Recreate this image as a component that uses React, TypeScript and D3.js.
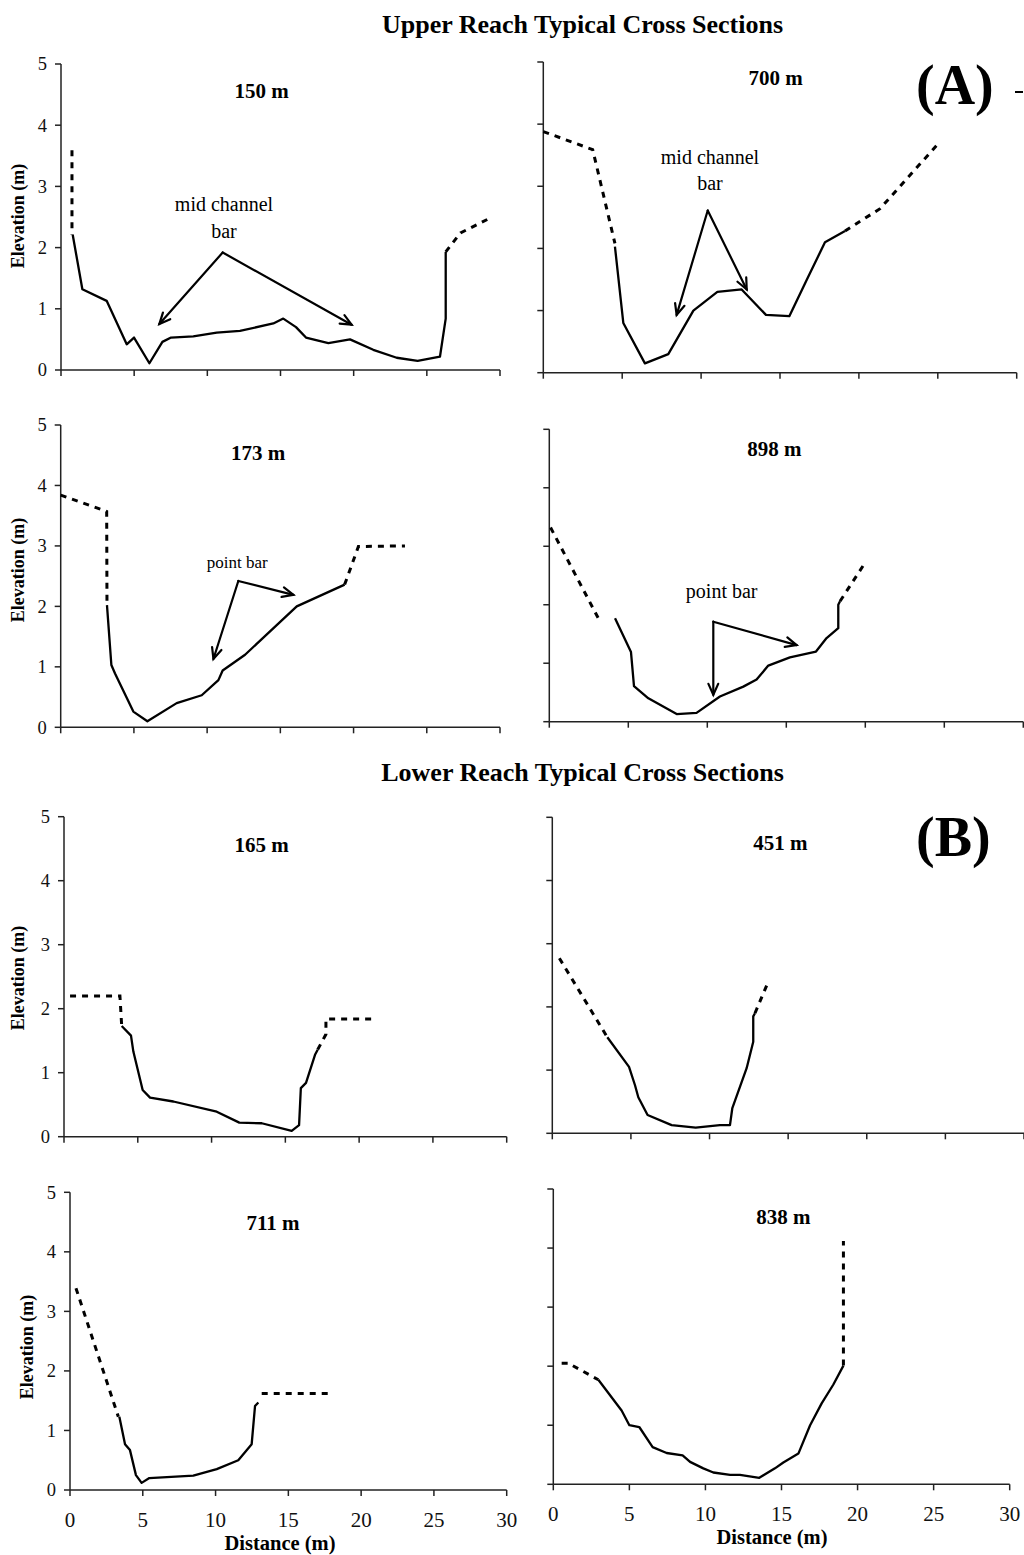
import React from "react";
import * as d3 from "d3";

type Pt = [number, number];

// Axis ticks
const elevationTicks = [0, 1, 2, 3, 4, 5];
const distanceTicks = [0, 5, 10, 15, 20, 25, 30];

// Surveyed channel (solid) and bank/terrace extension (dashed) profiles: [distance m, elevation m]
const sec150Channel: Pt[] = [[0.8, 2.21], [1.46, 1.32], [3.12, 1.13], [4.49, 0.42], [4.99, 0.53], [6.04, 0.11], [6.93, 0.46], [7.52, 0.53], [9.04, 0.55], [10.64, 0.61], [12.23, 0.64], [14.51, 0.76], [15.19, 0.84], [16.06, 0.7], [16.74, 0.53], [18.27, 0.44], [19.75, 0.5], [21.34, 0.33], [22.94, 0.2], [24.37, 0.15], [25.9, 0.22], [26.29, 0.84], [26.29, 1.93]];
const sec150BankLeft: Pt[] = [[0.75, 3.59], [0.75, 2.21]];
const sec150BankRight: Pt[] = [[26.29, 1.93], [27.3, 2.24], [29.3, 2.48]];

const sec700Channel: Pt[] = [[4.54, 2.03], [5.07, 0.8], [6.44, 0.15], [7.92, 0.3], [9.51, 1.0], [11.03, 1.3], [12.57, 1.34], [14.11, 0.93], [15.59, 0.91], [16.69, 1.49], [17.85, 2.1], [19.12, 2.28]];
const sec700BankLeft: Pt[] = [[0, 3.88], [3.13, 3.59], [4.54, 2.08]];
const sec700BankRight: Pt[] = [[19.12, 2.28], [21.34, 2.64], [25.04, 3.69]];

const sec173Channel: Pt[] = [[3.16, 2.02], [3.46, 1.03], [3.71, 0.89], [4.96, 0.26], [5.92, 0.1], [7.92, 0.4], [9.63, 0.53], [10.77, 0.78], [11.06, 0.94], [12.59, 1.2], [16.12, 2.0], [19.39, 2.36]];
const sec173BankLeft: Pt[] = [[0, 3.84], [3.14, 3.57], [3.16, 2.06]];
const sec173BankRight: Pt[] = [[19.39, 2.36], [20.33, 2.99], [23.51, 3.0]];

const sec898Channel: Pt[] = [[4.16, 1.77], [5.17, 1.19], [5.36, 0.61], [6.27, 0.4], [8.06, 0.13], [9.32, 0.15], [10.8, 0.43], [12.28, 0.6], [13.12, 0.72], [13.86, 0.96], [15.23, 1.1], [16.88, 1.2], [17.55, 1.43], [18.29, 1.6], [18.29, 2.0], [18.4, 2.06]];
const sec898BankLeft: Pt[] = [[0.08, 3.32], [3.1, 1.77], [3.45, 1.77]];
const sec898BankRight: Pt[] = [[18.4, 2.06], [19.87, 2.67]];

const sec165Channel: Pt[] = [[3.91, 1.73], [4.54, 1.58], [4.7, 1.33], [5.33, 0.73], [5.83, 0.61], [7.41, 0.55], [10.35, 0.39], [11.88, 0.22], [13.4, 0.21], [15.43, 0.09], [15.93, 0.18], [16.05, 0.76], [16.4, 0.84], [17.01, 1.28], [17.19, 1.36]];
const sec165BankLeft: Pt[] = [[0.41, 2.2], [3.79, 2.2], [3.91, 1.73]];
const sec165BankRight: Pt[] = [[17.19, 1.36], [17.75, 1.6], [17.75, 1.84], [20.96, 1.84]];

const sec451Channel: Pt[] = [[3.5, 1.52], [4.88, 1.05], [5.26, 0.76], [5.47, 0.57], [6.06, 0.29], [7.59, 0.13], [9.12, 0.09], [10.66, 0.13], [11.3, 0.13], [11.45, 0.4], [12.36, 1.03], [12.78, 1.45], [12.78, 1.85], [12.89, 1.9]];
const sec451BankLeft: Pt[] = [[0.45, 2.77], [3.5, 1.52]];
const sec451BankRight: Pt[] = [[12.89, 1.9], [13.67, 2.36]];

const sec711Channel: Pt[] = [[3.39, 1.23], [3.78, 0.77], [4.12, 0.67], [4.53, 0.25], [4.92, 0.12], [5.45, 0.2], [8.47, 0.24], [10.08, 0.35], [11.56, 0.5], [12.48, 0.77], [12.71, 1.41], [12.94, 1.47]];
const sec711BankLeft: Pt[] = [[0.41, 3.39], [3.32, 1.23]];
const sec711BankRight: Pt[] = [[13.17, 1.62], [17.75, 1.62]];

const sec838Channel: Pt[] = [[2.96, 1.77], [4.49, 1.25], [5.0, 1.0], [5.65, 0.97], [6.53, 0.63], [7.45, 0.53], [8.5, 0.49], [8.99, 0.38], [9.86, 0.27], [10.52, 0.2], [11.62, 0.16], [12.27, 0.16], [13.54, 0.11], [14.57, 0.27], [15.12, 0.37], [16.11, 0.52], [16.88, 1.0], [17.64, 1.37], [18.41, 1.69], [19.07, 2.01]];
const sec838BankLeft: Pt[] = [[0.55, 2.05], [1.05, 2.05], [1.27, 2.01], [2.96, 1.77]];
const sec838BankRight: Pt[] = [[19.07, 2.01], [19.07, 4.12]];

// Bar annotations: label anchor, arrow origin and arrow tips (data units)
type Note = { lines: string[]; at: Pt; apex: Pt; tips: Pt[]; size: number };
const note150: Note = { lines: ["mid channel", "bar"], at: [11.14, 2.59], apex: [11.05, 1.92], tips: [[6.72, 0.75], [19.86, 0.74]], size: 20 };
const note700: Note = { lines: ["mid channel", "bar"], at: [10.56, 3.36], apex: [10.42, 2.61], tips: [[8.45, 0.93], [12.89, 1.34]], size: 20 };
const note173: Note = { lines: ["point bar"], at: [12.06, 2.63], apex: [12.13, 2.42], tips: [[10.43, 1.13], [15.89, 2.19]], size: 17 };
const note898: Note = { lines: ["point bar"], at: [10.91, 2.11], apex: [10.38, 1.71], tips: [[10.38, 0.46], [15.65, 1.31]], size: 20 };

type Panel = {
  title: string;
  channel: Pt[];
  banks: Pt[][];
  note?: Note;
  x0: number; x1: number; yTop: number; yBot: number;
  titleX: number; titleY: number;
  yLabels: boolean; xLabels: boolean;
  yTitleX?: number; yTitleY?: number;
  xTitleX?: number;
};

const FONT = "'Liberation Serif', 'Times New Roman', Times, serif";

const panels: Panel[] = [
  { title: "150 m", channel: sec150Channel, banks: [sec150BankLeft, sec150BankRight], note: note150,
    x0: 61, x1: 500, yTop: 64, yBot: 370, titleX: 261.5, titleY: 97.5, yLabels: true, xLabels: false, yTitleX: 24, yTitleY: 216 },
  { title: "700 m", channel: sec700Channel, banks: [sec700BankLeft, sec700BankRight], note: note700,
    x0: 543.3, x1: 1016.7, yTop: 62, yBot: 372.7, titleX: 775.5, titleY: 85, yLabels: false, xLabels: false },
  { title: "173 m", channel: sec173Channel, banks: [sec173BankLeft, sec173BankRight], note: note173,
    x0: 60.7, x1: 500, yTop: 425, yBot: 727.3, titleX: 258, titleY: 459.5, yLabels: true, xLabels: false, yTitleX: 24, yTitleY: 570 },
  { title: "898 m", channel: sec898Channel, banks: [sec898BankLeft, sec898BankRight], note: note898,
    x0: 549.3, x1: 1023.3, yTop: 429.3, yBot: 721.7, titleX: 774.3, titleY: 456, yLabels: false, xLabels: false },
  { title: "165 m", channel: sec165Channel, banks: [sec165BankLeft, sec165BankRight],
    x0: 64, x1: 506.7, yTop: 816.7, yBot: 1136.7, titleX: 261.5, titleY: 852, yLabels: true, xLabels: false, yTitleX: 24, yTitleY: 978 },
  { title: "451 m", channel: sec451Channel, banks: [sec451BankLeft, sec451BankRight],
    x0: 552.3, x1: 1024, yTop: 817.3, yBot: 1133.3, titleX: 780.3, titleY: 850, yLabels: false, xLabels: false },
  { title: "711 m", channel: sec711Channel, banks: [sec711BankLeft, sec711BankRight],
    x0: 70, x1: 506.7, yTop: 1192.3, yBot: 1490, titleX: 273, titleY: 1230, yLabels: true, xLabels: true, yTitleX: 33, yTitleY: 1347, xTitleX: 280 },
  { title: "838 m", channel: sec838Channel, banks: [sec838BankLeft, sec838BankRight],
    x0: 553.3, x1: 1009.7, yTop: 1189, yBot: 1484.3, titleX: 783.3, titleY: 1223.5, yLabels: false, xLabels: true, xTitleX: 772 },
];

function Arrow({ from, to }: { from: [number, number]; to: [number, number] }) {
  const ang = Math.atan2(to[1] - from[1], to[0] - from[0]);
  const L = 12;
  const spread = 0.42;
  const a1: [number, number] = [to[0] - L * Math.cos(ang - spread), to[1] - L * Math.sin(ang - spread)];
  const a2: [number, number] = [to[0] - L * Math.cos(ang + spread), to[1] - L * Math.sin(ang + spread)];
  return (
    <g stroke="#000" strokeWidth={2.2} fill="none" strokeLinecap="round" strokeLinejoin="miter">
      <line x1={from[0]} y1={from[1]} x2={to[0]} y2={to[1]} />
      <path d={`M${a1[0]},${a1[1]}L${to[0]},${to[1]}L${a2[0]},${a2[1]}`} />
    </g>
  );
}

function CrossSection({ p }: { p: Panel }) {
  const x = d3.scaleLinear().domain([0, 30]).range([p.x0, p.x1]);
  const y = d3.scaleLinear().domain([0, 5]).range([p.yBot, p.yTop]);
  const line = d3.line<Pt>().x((d) => x(d[0])).y((d) => y(d[1]));
  const axisColor = "#222";
  return (
    <g>
      {/* y axis */}
      <line x1={p.x0} x2={p.x0} y1={p.yTop} y2={p.yBot} stroke={axisColor} strokeWidth={1.5} />
      {elevationTicks.map((t) => (
        <g key={`yt${t}`}>
          <line x1={p.x0 - 6} x2={p.x0} y1={y(t)} y2={y(t)} stroke={axisColor} strokeWidth={1.5} />
          {p.yLabels && (
            <text x={p.x0 - 14} y={y(t)} dy="0.35em" textAnchor="end" fontFamily={FONT} fontSize={18.5} fill="#111">{t}</text>
          )}
        </g>
      ))}
      {/* x axis */}
      <line x1={p.x0} x2={p.x1} y1={p.yBot} y2={p.yBot} stroke={axisColor} strokeWidth={1.5} />
      {distanceTicks.map((t) => (
        <g key={`xt${t}`}>
          <line x1={x(t)} x2={x(t)} y1={p.yBot} y2={p.yBot + 6} stroke={axisColor} strokeWidth={1.5} />
          {p.xLabels && (
            <text x={x(t)} y={p.yBot + 37} textAnchor="middle" fontFamily={FONT} fontSize={21} fill="#111">{t}</text>
          )}
        </g>
      ))}
      {p.yTitleX !== undefined && (
        <text transform={`translate(${p.yTitleX},${p.yTitleY}) rotate(-90)`} textAnchor="middle" fontFamily={FONT}
          fontWeight="bold" fontSize={18} fill="#000">Elevation (m)</text>
      )}
      {p.xTitleX !== undefined && (
        <text x={p.xTitleX} y={p.yBot + 60} textAnchor="middle" fontFamily={FONT} fontWeight="bold" fontSize={20.5} fill="#000">Distance (m)</text>
      )}
      <text x={p.titleX} y={p.titleY} textAnchor="middle" fontFamily={FONT} fontWeight="bold" fontSize={21} fill="#000">{p.title}</text>
      {/* dashed bank extensions */}
      {p.banks.map((b, i) => (
        <path key={`b${i}`} d={line(b) || ""} fill="none" stroke="#000" strokeWidth={3} strokeDasharray="6 6" />
      ))}
      {/* surveyed channel */}
      <path d={line(p.channel) || ""} fill="none" stroke="#000" strokeWidth={2.3} strokeLinejoin="round" />
      {p.note && (
        <g>
          {p.note.lines.map((s, i) => (
            <text key={s} x={x(p.note!.at[0])} y={y(p.note!.at[1]) + i * 26.5} textAnchor="middle" fontFamily={FONT}
              fontSize={p.note!.size} fill="#000">{s}</text>
          ))}
          {p.note.tips.map((tp, i) => (
            <Arrow key={`a${i}`} from={[x(p.note!.apex[0]), y(p.note!.apex[1])]} to={[x(tp[0]), y(tp[1])]} />
          ))}
        </g>
      )}
    </g>
  );
}

export default function App() {
  return (
    <svg width={1024} height={1555} viewBox="0 0 1024 1555"
      style={{ position: "absolute", left: 0, top: 0, display: "block", background: "#fff" }}>
      <rect x={0} y={0} width={1024} height={1555} fill="#fff" />
      <text x={582.5} y={33} textAnchor="middle" fontFamily={FONT} fontWeight="bold" fontSize={26} fill="#000">Upper Reach Typical Cross Sections</text>
      <text x={582.5} y={781} textAnchor="middle" fontFamily={FONT} fontWeight="bold" fontSize={26} fill="#000">Lower Reach Typical Cross Sections</text>
      <text x={916} y={104} fontFamily={FONT} fontWeight="bold" fontSize={56} fill="#000">(A)</text>
      <line x1={1015} x2={1023} y1={92} y2={92} stroke="#000" strokeWidth={2} />
      <text x={916} y={856} fontFamily={FONT} fontWeight="bold" fontSize={56} fill="#000">(B)</text>
      {panels.map((p) => (
        <CrossSection key={p.title} p={p} />
      ))}
    </svg>
  );
}
